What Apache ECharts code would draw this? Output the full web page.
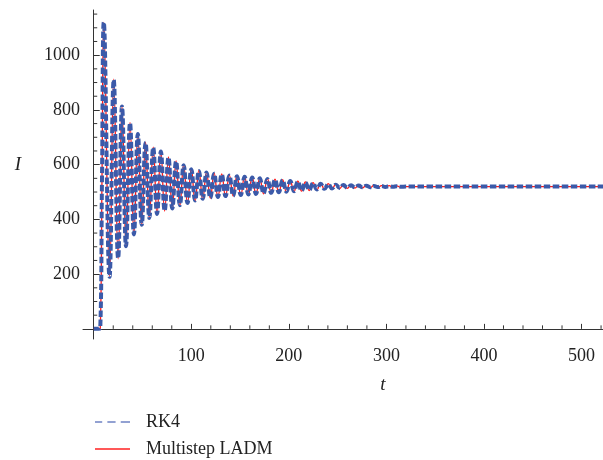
<!DOCTYPE html>
<html>
<head>
<meta charset="utf-8">
<script src="https://cdn.jsdelivr.net/npm/echarts@6/dist/echarts.min.js"></script>
<style>
html,body{margin:0;padding:0;background:#fff;}
#chart{width:603px;height:460px;}
</style>
</head>
<body>
<div id="chart"></div>
<script>
// ---- data ----
const tValues = [0, 5, 6.7, 8.5, 10.3, 16.2, 20.5, 25.0, 29.0, 33.1, 37.2, 41.2, 45.2, 49.2, 53.1, 57.0,
  61.0, 64.9, 68.8, 72.7, 76.6, 80.5, 84.4, 88.3, 92.2, 96.1, 100.0, 103.9, 107.8, 111.7, 115.6, 119.5,
  123.4, 127.3, 131.2, 135.1, 139.0, 142.9, 146.8, 150.7, 154.6, 158.5, 162.4, 166.3, 170.2, 174.1,
  178.0, 181.9, 185.8, 189.7, 193.6, 197.5, 201.4, 205.3, 209.2, 213.1, 217.0, 220.9, 224.8, 228.7,
  232.6, 236.5, 240.4, 244.3, 248.2, 252.1, 256.0, 259.9, 263.8, 267.7, 271.6, 275.5, 279.4, 283.3,
  287.2, 291.1, 295.0, 298.9, 302.8, 306.7, 310.6, 314.5, 320, 522];
const rk4Values = [0, 0, 2, 560, 1120, 190, 910, 258, 812, 302, 752, 345, 712, 380, 680, 405,
  662, 420, 648, 432, 626, 440, 612, 452, 598, 460, 583, 469, 577, 475, 571, 479,
  567, 482, 564, 485, 560, 487, 558, 489, 556, 491, 553, 493, 550, 495,
  548, 497, 545, 499, 543, 501, 540, 503, 538, 505, 535, 507.5, 532.5, 509.5,
  530.5, 511.5, 528.5, 513, 527, 514.5, 525.5, 515.5, 524.5, 516.5, 523.5, 517, 523, 517.5,
  522.2, 518, 521.7, 518.5, 521.2, 519, 520.8, 519.3, 520, 520];
const ladmValues = [0, 0, 2, 560, 1120, 190, 912, 256, 814, 300, 754, 343, 714, 378, 682, 403,
  664, 418, 650, 430, 628, 438, 614, 450, 600, 458, 585, 467, 579, 473, 573, 477,
  569, 480, 566, 483, 562, 485, 560, 487, 558, 489, 555, 491, 552, 493,
  550, 495, 547, 497, 545, 499, 542, 501, 540, 503, 537, 505.5, 534.5, 507.5,
  532.5, 509.5, 530.5, 511, 529, 512.5, 527.5, 513.5, 526.5, 514.5, 525.5, 515, 525, 515.5,
  524.2, 516, 523.7, 516.5, 523.2, 517, 522.8, 517.3, 520, 520];
const xMajorTicks = [100, 200, 300, 400, 500];
const yMajorTicks = [200, 400, 600, 800, 1000];
const xMinorTicks = [20, 40, 60, 80, 120, 140, 160, 180, 220, 240, 260, 280, 320, 340, 360, 380,
  420, 440, 460, 480, 520];
const yMinorTicks = [50, 100, 150, 250, 300, 350, 450, 500, 550, 650, 700, 750, 850, 900, 950,
  1050, 1100, 1150];
const seriesNames = ['RK4', 'Multistep LADM'];

const FONT = 'Liberation Serif';
const AXIS = '#333';

const rk4 = tValues.map((t, i) => [t, rk4Values[i]]);
const ladm = tValues.map((t, i) => [t, ladmValues[i]]);

const chart = echarts.init(document.getElementById('chart'), null, {renderer: 'canvas'});

function minorTickSeries(values, xAxisDir) {
  return {
    type: 'custom',
    silent: true,
    clip: false,
    z: 5,
    data: values.map(v => [v]),
    encode: xAxisDir ? {x: 0} : {y: 0},
    renderItem: function (params, api) {
      const v = api.value(0);
      const p = xAxisDir ? api.coord([v, 0]) : api.coord([0, v]);
      return {
        type: 'line',
        shape: xAxisDir
          ? {x1: p[0], y1: p[1], x2: p[0], y2: p[1] - 3.5}
          : {x1: p[0], y1: p[1], x2: p[0] + 3.5, y2: p[1]},
        style: {stroke: AXIS, lineWidth: 1}
      };
    }
  };
}

chart.setOption({
  animation: false,
  backgroundColor: '#fff',
  grid: {left: 83, right: 0, top: 10, bottom: 121, containLabel: false},
  xAxis: {
    type: 'value',
    min: -11,
    max: 522,
    name: 't',
    nameLocation: 'middle',
    nameGap: 36,
    nameTextStyle: {fontFamily: FONT, fontStyle: 'italic', fontSize: 19, color: '#222', padding: [0, 0, 0, 80]},
    axisLine: {onZero: true, lineStyle: {color: AXIS, width: 1}},
    axisTick: {show: true, inside: true, length: 5, customValues: xMajorTicks, lineStyle: {color: AXIS}},
    axisLabel: {customValues: xMajorTicks, margin: 8, fontFamily: FONT, fontSize: 18, color: '#222',
      formatter: v => String(v)},
    splitLine: {show: false}
  },
  yAxis: {
    type: 'value',
    min: -37,
    max: 1165,
    name: 'I',
    nameLocation: 'middle',
    nameRotate: 0,
    nameGap: 62,
    nameTextStyle: {fontFamily: FONT, fontStyle: 'italic', fontSize: 19, color: '#222', verticalAlign: 'bottom'},
    axisLine: {onZero: true, lineStyle: {color: AXIS, width: 1}},
    axisTick: {show: true, inside: true, length: 6, customValues: yMajorTicks, lineStyle: {color: AXIS}},
    axisLabel: {customValues: yMajorTicks, margin: 3, fontFamily: FONT, fontSize: 18, color: '#222',
      formatter: v => String(v)},
    splitLine: {show: false}
  },
  legend: {
    orient: 'vertical',
    left: 95,
    top: 413,
    padding: 0,
    itemWidth: 35,
    itemHeight: 14,
    itemGap: 9,
    selectedMode: false,
    textStyle: {fontFamily: FONT, fontSize: 18, color: '#222', padding: [0, 0, 0, 11]},
    data: [
      {name: seriesNames[0], icon: 'path://M0,0h7v1.3h-7z M12,0h8v1.3h-8z M25,0h9v1.3h-9z',
        itemStyle: {color: '#6f82c4'}},
      {name: seriesNames[1], icon: 'path://M0,0h34v1.3h-34z', itemStyle: {color: '#ff2020'}}
    ]
  },
  series: [
    {
      name: seriesNames[1],
      type: 'line',
      data: ladm,
      symbol: 'none',
      smooth: 0.45,
      z: 2,
      lineStyle: {color: '#ff1a1a', width: 1.3, type: 'solid'},
      itemStyle: {color: '#ff1a1a'}
    },
    {
      name: seriesNames[0],
      type: 'line',
      data: rk4,
      symbol: 'none',
      smooth: 0.45,
      z: 3,
      lineStyle: {color: '#3b5aa9', width: 4, type: [6.5, 2.5], cap: 'butt'},
      itemStyle: {color: '#3b5aa9'}
    },
    minorTickSeries(xMinorTicks, true),
    minorTickSeries(yMinorTicks, false)
  ]
});
</script>
</body>
</html>
